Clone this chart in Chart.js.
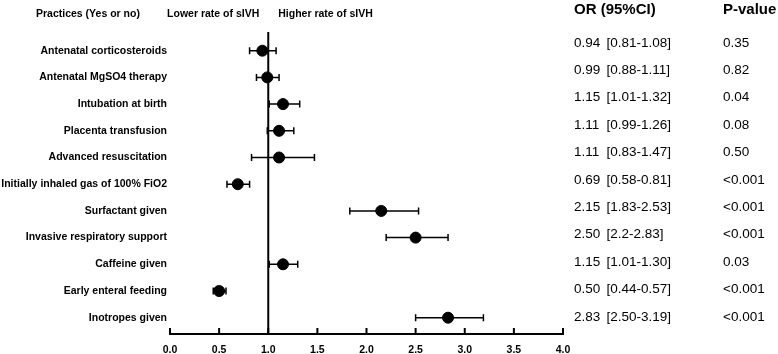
<!DOCTYPE html>
<html>
<head>
<meta charset="utf-8">
<script src="https://cdn.jsdelivr.net/npm/chart.js@4"></script>
<style>
html,body{margin:0;padding:0;background:#fff;}
#wrap{position:relative;width:778px;height:354px;}
</style>
</head>
<body>
<div id="wrap"><canvas id="c" width="778" height="354"></canvas></div>
<script>
const practices = [
  "Antenatal corticosteroids",
  "Antenatal MgSO4 therapy",
  "Intubation at birth",
  "Placenta transfusion",
  "Advanced resuscitation",
  "Initially inhaled gas of 100% FiO2",
  "Surfactant given",
  "Invasive respiratory support",
  "Caffeine given",
  "Early enteral feeding",
  "Inotropes given"
];
const oddsRatio = [0.94, 0.99, 1.15, 1.11, 1.11, 0.69, 2.15, 2.50, 1.15, 0.50, 2.83];
const ciLower   = [0.81, 0.88, 1.01, 0.99, 0.83, 0.58, 1.83, 2.2, 1.01, 0.44, 2.50];
const ciUpper   = [1.08, 1.11, 1.32, 1.26, 1.47, 0.81, 2.53, 2.83, 1.30, 0.57, 3.19];
const ciText    = ["[0.81-1.08]","[0.88-1.11]","[1.01-1.32]","[0.99-1.26]","[0.83-1.47]","[0.58-0.81]","[1.83-2.53]","[2.2-2.83]","[1.01-1.30]","[0.44-0.57]","[2.50-3.19]"];
const orText    = ["0.94","0.99","1.15","1.11","1.11","0.69","2.15","2.50","1.15","0.50","2.83"];
const pValues   = ["0.35","0.82","0.04","0.08","0.50","<0.001","<0.001","<0.001","0.03","<0.001","<0.001"];
const xTicks    = [0, 0.5, 1, 1.5, 2, 2.5, 3, 3.5, 4];
const headers   = {practice: "Practices (Yes or no)", lower: "Lower rate of sIVH", higher: "Higher rate of sIVH", or: "OR (95%CI)", p: "P-value"};

const FONT = "'Liberation Sans', Arial, Helvetica, sans-serif";

const forestPlugin = {
  id: 'forest',
  beforeDatasetsDraw(chart) {
    const ctx = chart.ctx, xs = chart.scales.x, ys = chart.scales.y, ca = chart.chartArea;
    ctx.save();
    // reference line at OR = 1
    const x1 = xs.getPixelForValue(1);
    ctx.strokeStyle = '#000';
    ctx.lineWidth = 2;
    ctx.beginPath();
    ctx.moveTo(x1, ca.top);
    ctx.lineTo(x1, ca.bottom);
    ctx.stroke();
    // error bars
    ctx.lineWidth = 1.5;
    for (let i = 0; i < oddsRatio.length; i++) {
      const y = ys.getPixelForValue(i);
      const xl = xs.getPixelForValue(ciLower[i]);
      const xh = xs.getPixelForValue(ciUpper[i]);
      ctx.beginPath();
      ctx.moveTo(xl, y); ctx.lineTo(xh, y);
      ctx.moveTo(xl, y - 3.5); ctx.lineTo(xl, y + 3.5);
      ctx.moveTo(xh, y - 3.5); ctx.lineTo(xh, y + 3.5);
      ctx.stroke();
    }
    ctx.restore();
  },
  afterDraw(chart) {
    const ctx = chart.ctx, xs = chart.scales.x, ca = chart.chartArea;
    ctx.save();
    // inward tick marks on x axis
    ctx.strokeStyle = '#000';
    ctx.lineWidth = 2;
    xTicks.forEach(v => {
      const x = xs.getPixelForValue(v);
      ctx.beginPath();
      ctx.moveTo(x, ca.bottom);
      ctx.lineTo(x, ca.bottom - 6);
      ctx.stroke();
    });
    // headers
    ctx.fillStyle = '#000';
    ctx.textBaseline = 'alphabetic';
    ctx.font = "bold 10.5px " + FONT;
    ctx.textAlign = 'left';
    ctx.fillText(headers.practice, 36, 17);
    const x1 = xs.getPixelForValue(1);
    ctx.textAlign = 'right';
    ctx.fillText(headers.lower, x1 - 9, 17);
    ctx.textAlign = 'left';
    ctx.fillText(headers.higher, x1 + 10, 17);
    ctx.font = "bold 15px " + FONT;
    ctx.fillText(headers.or, 574, 13.5);
    ctx.fillText(headers.p, 723, 13.5);
    // right table
    ctx.font = "13.5px " + FONT;
    for (let i = 0; i < orText.length; i++) {
      const yb = 46.5 + 27.4 * i;
      ctx.fillText(orText[i], 574, yb);
      ctx.fillText(ciText[i], 606.5, yb);
      ctx.fillText(pValues[i], 723, yb);
    }
    ctx.restore();
  }
};

new Chart(document.getElementById('c'), {
  type: 'scatter',
  data: {
    datasets: [{
      data: oddsRatio.map((v, i) => ({x: v, y: i})),
      backgroundColor: '#000',
      borderColor: '#000',
      pointRadius: 5.5,
      pointHoverRadius: 5.5
    }]
  },
  options: {
    responsive: false,
    animation: false,
    devicePixelRatio: 1,
    layout: {padding: {left: 0, right: 215, top: 32, bottom: 0}},
    plugins: {legend: {display: false}, tooltip: {enabled: false}},
    scales: {
      x: {
        type: 'linear',
        min: 0, max: 4,
        afterBuildTicks: s => { s.ticks = xTicks.map(v => ({value: v})); },
        afterFit: s => { s.height = 20; },
        grid: {display: false, drawTicks: false},
        border: {display: true, color: '#000', width: 2},
        ticks: {
          color: '#000',
          padding: 10,
          font: {family: FONT, size: 10.5, weight: 'bold'},
          callback: v => Number(v).toFixed(1)
        }
      },
      y: {
        type: 'linear',
        reverse: true,
        min: -0.7, max: 10.61,
        afterBuildTicks: s => { s.ticks = practices.map((_, i) => ({value: i})); },
        afterFit: s => { s.width = 170; },
        grid: {display: false, drawTicks: false},
        border: {display: false},
        ticks: {
          autoSkip: false,
          color: '#000',
          padding: 3,
          font: {family: FONT, size: 10.5, weight: 'bold'},
          callback: v => practices[v]
        }
      }
    }
  },
  plugins: [forestPlugin]
});
</script>
</body>
</html>
